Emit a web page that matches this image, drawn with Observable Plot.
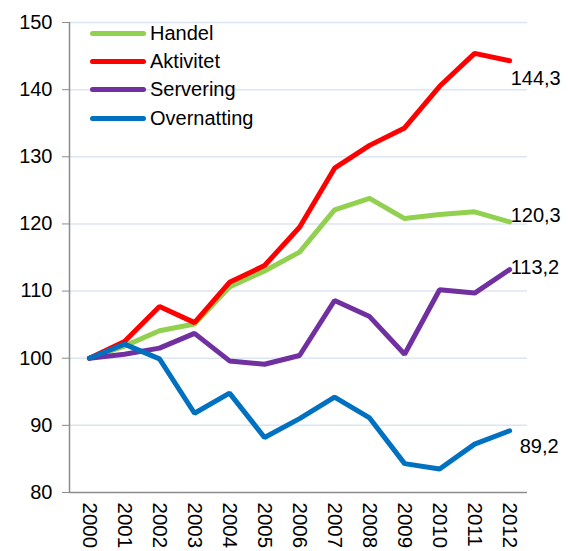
<!DOCTYPE html>
<html>
<head>
<meta charset="utf-8">
<script src="https://cdn.jsdelivr.net/npm/d3@7"></script>
<script src="https://cdn.jsdelivr.net/npm/@observablehq/plot@0.6"></script>
<style>
  html, body { margin: 0; padding: 0; background: #fff; }
  #wrap { position: relative; width: 568px; height: 551px; overflow: hidden; font-family: "Liberation Sans", Arial, sans-serif; }
  #legend { position: absolute; left: 90px; top: 19px; }
  .row { display: flex; align-items: center; height: 28.4px; font-size: 20px; color: #000; }
  .sw { width: 56px; height: 5px; border-radius: 3px; margin-right: 4px; }
</style>
</head>
<body>
<div id="wrap"></div>
<script>
const years = [2000, 2001, 2002, 2003, 2004, 2005, 2006, 2007, 2008, 2009, 2010, 2011, 2012];
const seriesNames = ["Handel", "Aktivitet", "Servering", "Overnatting"];
const seriesColors = ["#92d050", "#ff0000", "#7030a0", "#0070c0"];
const handel      = [100, 101.8, 104.1, 105.1, 110.6, 113.0, 115.8, 122.1, 123.8, 120.8, 121.4, 121.8, 120.3];
const aktivitet   = [100, 102.5, 107.7, 105.3, 111.3, 113.8, 119.5, 128.3, 131.7, 134.3, 140.5, 145.4, 144.3];
const servering   = [100, 100.6, 101.5, 103.7,  99.6,  99.1, 100.4, 108.6, 106.2, 100.6, 110.2, 109.7, 113.2];
const overnatting = [100, 102.1,  99.9,  91.8,  94.8,  88.2,  91.0,  94.2,  91.1,  84.3,  83.5,  87.2,  89.2];
const yTicks = [80, 90, 100, 110, 120, 130, 140, 150];

const valuesBySeries = [handel, aktivitet, servering, overnatting];
const data = [];
seriesNames.forEach((s, i) => years.forEach((y, j) => data.push({series: s, year: y, value: valuesBySeries[i][j]})));
const lastYear = years[years.length - 1];
const endData = data.filter(d => d.year === lastYear);

// label offsets (style only)
const labelDy = {Handel: -5, Aktivitet: 19, Servering: -1, Overnatting: 17};
const labelDx = {Handel: 1, Aktivitet: 1, Servering: 1, Overnatting: 10};

const xDomain = [1999.43, 2012.51];
const yDomain = [yTicks[0], yTicks[yTicks.length - 1]];

const chart = Plot.plot({
  width: 568,
  height: 551,
  marginLeft: 69,
  marginRight: 41,
  marginTop: 22,
  marginBottom: 59,
  style: {fontFamily: "Liberation Sans, Arial, sans-serif", fontSize: "20px", color: "#000", background: "#fff", overflow: "visible"},
  x: {type: "linear", domain: xDomain},
  y: {domain: yDomain},
  color: {domain: seriesNames, range: seriesColors},
  marks: [
    Plot.gridY(yTicks.slice(1), {stroke: "#dce5f2", strokeOpacity: 1, strokeWidth: 1.5}),
    Plot.ruleX([xDomain[0]], {stroke: "#8c8c8c", strokeWidth: 1.5}),
    Plot.ruleY([yDomain[0]], {stroke: "#8c8c8c", strokeWidth: 1.5}),
    Plot.axisY(yTicks, {tickSize: 7, tickPadding: 10, stroke: "#8c8c8c", fontSize: 20, fill: "#000", label: null}),
    Plot.axisX(years, {tickSize: 0, tickPadding: 10, tickRotate: 90, tickFormat: d => String(d), fontSize: 20.5, fill: "#000", label: null}),
    Plot.line(data, {x: "year", y: "value", z: "series", stroke: "series", strokeWidth: 5, strokeLinejoin: "miter", strokeLinecap: "round"}),
    Plot.text(endData, {x: "year", y: "value", text: d => d.value.toFixed(1).replace(".", ","),
      textAnchor: "start", fontSize: 20, fill: "#000"})
  ]
});

const wrap = document.getElementById("wrap");
wrap.appendChild(chart);
const texts = chart.querySelectorAll("g[aria-label='text'] text");
texts.forEach((t, i) => {
  const s = endData[i].series;
  t.setAttribute("dx", labelDx[s]);
  t.setAttribute("dy", (labelDy[s] - 1) + "px");
});

const legend = document.createElement("div");
legend.id = "legend";
seriesNames.forEach((s, i) => {
  const row = document.createElement("div");
  row.className = "row";
  const sw = document.createElement("div");
  sw.className = "sw";
  sw.style.background = seriesColors[i];
  const lab = document.createElement("span");
  lab.textContent = s;
  row.appendChild(sw);
  row.appendChild(lab);
  legend.appendChild(row);
});
wrap.appendChild(legend);
</script>
</body>
</html>
